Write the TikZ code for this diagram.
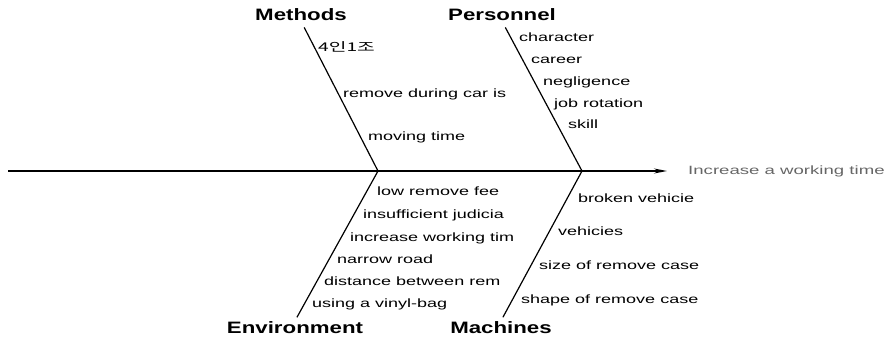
\documentclass[tikz,border=0pt]{standalone}
\usepackage{fontspec}
\setmainfont[FakeStretch=1.5]{Liberation Sans}
\newfontfamily\titlefont[FakeStretch=1.35]{Liberation Sans}
\newfontfamily\effectfont[FakeStretch=1.55]{Liberation Sans}
\newfontfamily\kofont[FakeStretch=1.6]{Noto Sans CJK KR}
\usetikzlibrary{arrows.meta}

\begin{document}
\begin{tikzpicture}[
    x=1pt, y=-1pt,
    bonetitle/.style={inner sep=0pt, text height=12pt, text depth=0pt, font=\titlefont\fontsize{16.5}{19}\selectfont\bfseries},
    cause/.style={anchor=west, inner sep=0pt, text height=1.5ex, text depth=0.4ex, font=\fontsize{12}{14}\selectfont},
    bone/.style={line width=1.2pt},
    spine/.style={line width=1.2pt, -{Stealth[length=13pt, width=5pt]}}
  ]
    \useasboundingbox (0,0) rectangle (890,339);

    % Spine and effect
    \coordinate (tail) at (8,171);
    \node[anchor=west, inner sep=0pt, text=black!60, font=\effectfont\fontsize{12}{14}\selectfont] (effect) at (688,171) {Increase a working time};
    \draw[spine, shorten >=21pt] (tail) -- (effect.west);

    % Joints on the spine
    \coordinate (mjoin) at (378,171);
    \coordinate (pjoin) at (582,171);

    % Bone titles
    \node[bonetitle] (methods) at (301,15) {Methods};
    \node[bonetitle] (personnel) at (502,15) {Personnel};
    \node[bonetitle] (environment) at (295,327) {Environment};
    \node[bonetitle] (machines) at (501,327) {Machines};

    % Bones
    \draw[bone, shorten <=7pt] (methods.south) -- (mjoin);
    \draw[bone, shorten <=7pt] (personnel.south) -- (pjoin);
    \draw[bone, shorten <=4pt] (environment.north) -- (mjoin);
    \draw[bone, shorten <=4pt] (machines.north) -- (pjoin);

    % Methods
    \node[cause, font=\kofont\fontsize{12}{14}\selectfont] (m1) at (318,49) {4인1조};
    \node[cause] (m2) at (343,95) {remove during car is};
    \node[cause] (m3) at (368,138) {moving time};

    % Personnel
    \node[cause] (p1) at (519,39) {character};
    \node[cause] (p2) at (531,61) {career};
    \node[cause] (p3) at (543,83) {negligence};
    \node[cause] (p4) at (554,105) {job rotation};
    \node[cause] (p5) at (568,126) {skill};

    % Environment
    \node[cause] (e1) at (377,193) {low remove fee};
    \node[cause] (e2) at (363,216) {insufficient judicia};
    \node[cause] (e3) at (350,239) {increase working tim};
    \node[cause] (e4) at (337,261) {narrow road};
    \node[cause] (e5) at (324,283) {distance between rem};
    \node[cause] (e6) at (312,305) {using a vinyl-bag};

    % Machines
    \node[cause] (c1) at (578,200) {broken vehicie};
    \node[cause] (c2) at (558,233) {vehicies};
    \node[cause] (c3) at (539,267) {size of remove case};
    \node[cause] (c4) at (521,301) {shape of remove case};

  \end{tikzpicture}
\end{document}
